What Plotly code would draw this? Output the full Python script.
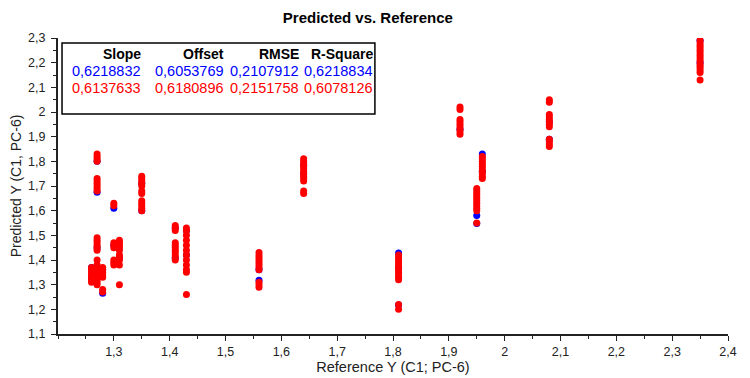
import plotly.graph_objects as go

# Reference (x) and predicted (y) values, validation series (red)
red_x = ([1.26] * 7 +
         [1.27] * 24 +
         [1.28] * 7 +
         [1.30] * 8 +
         [1.31] * 10 +
         [1.35] * 12 +
         [1.41] * 11 +
         [1.43] * 12 +
         [1.56] * 11 +
         [1.64] * 12 +
         [1.81] * 13 +
         [1.92] * 9 +
         [1.95] * 11 +
         [1.96] * 10 +
         [2.08] * 12 +
         [2.35] * 15)
red_y = ([1.31, 1.32, 1.33, 1.34, 1.35, 1.36, 1.37] +
         [1.80, 1.81, 1.82, 1.83, 1.68, 1.69, 1.70, 1.71, 1.72, 1.73,
          1.44, 1.45, 1.46, 1.47, 1.48, 1.49, 1.30, 1.31, 1.32, 1.33,
          1.34, 1.36, 1.38, 1.40] +
         [1.33, 1.34, 1.35, 1.36, 1.37, 1.28, 1.27] +
         [1.62, 1.63, 1.45, 1.46, 1.47, 1.38, 1.39, 1.40] +
         [1.44, 1.45, 1.46, 1.47, 1.48, 1.38, 1.40, 1.41, 1.42, 1.30] +
         [1.67, 1.68, 1.70, 1.71, 1.72, 1.73, 1.74, 1.60, 1.61, 1.62, 1.63, 1.64] +
         [1.52, 1.53, 1.54, 1.40, 1.41, 1.42, 1.43, 1.44, 1.45, 1.46, 1.47] +
         [1.53, 1.52, 1.50, 1.48, 1.46, 1.44, 1.42, 1.40, 1.38, 1.36, 1.35, 1.26] +
         [1.36, 1.37, 1.38, 1.39, 1.40, 1.41, 1.42, 1.43, 1.29, 1.30, 1.31] +
         [1.72, 1.73, 1.74, 1.75, 1.76, 1.77, 1.78, 1.79, 1.80, 1.81, 1.67, 1.68] +
         [1.32, 1.33, 1.34, 1.35, 1.36, 1.37, 1.38, 1.39, 1.40, 1.41, 1.42, 1.20, 1.22] +
         [2.01, 2.02, 1.91, 1.92, 1.93, 1.94, 1.95, 1.96, 1.97] +
         [1.60, 1.61, 1.62, 1.63, 1.64, 1.65, 1.66, 1.67, 1.68, 1.69, 1.55] +
         [1.73, 1.74, 1.75, 1.76, 1.77, 1.78, 1.79, 1.80, 1.81, 1.82] +
         [2.04, 2.05, 1.94, 1.95, 1.96, 1.97, 1.98, 1.99, 1.86, 1.87, 1.88, 1.89] +
         [2.16, 2.17, 2.18, 2.19, 2.20, 2.21, 2.22, 2.23, 2.24, 2.25, 2.26,
          2.27, 2.28, 2.29, 2.13])

# Calibration series (blue), mostly hidden below the red points
blue_x = [1.26, 1.26, 1.27, 1.27, 1.27, 1.27, 1.28, 1.28, 1.30, 1.30, 1.31,
          1.35, 1.35, 1.41, 1.41, 1.43, 1.43, 1.56, 1.56, 1.64, 1.64,
          1.81, 1.81, 1.81, 1.92, 1.95, 1.95, 1.96, 1.96, 2.08, 2.08, 2.35, 2.35]
blue_y = [1.37, 1.33, 1.675, 1.80, 1.45, 1.34, 1.265, 1.36, 1.61, 1.46, 1.41,
          1.60, 1.71, 1.408, 1.53, 1.52, 1.42, 1.36, 1.318, 1.785, 1.75,
          1.428, 1.37, 1.218, 1.93, 1.548, 1.58, 1.83, 1.76, 1.89, 1.96, 2.29, 2.20]

x_ticks = [1.3, 1.4, 1.5, 1.6, 1.7, 1.8, 1.9, 2.0, 2.1, 2.2, 2.3, 2.4]
x_labels = ["1,3", "1,4", "1,5", "1,6", "1,7", "1,8", "1,9", "2", "2,1", "2,2", "2,3", "2,4"]
y_ticks = [1.1, 1.2, 1.3, 1.4, 1.5, 1.6, 1.7, 1.8, 1.9, 2.0, 2.1, 2.2, 2.3]
y_labels = ["1,1", "1,2", "1,3", "1,4", "1,5", "1,6", "1,7", "1,8", "1,9", "2", "2,1", "2,2", "2,3"]

stat_headers = ["Slope", "Offset", "RMSE", "R-Square"]
stats_blue = ["0,6218832", "0,6053769", "0,2107912", "0,6218834"]
stats_red = ["0,6137633", "0,6180896", "0,2151758", "0,6078126"]

FONT = "Liberation Sans Narrow, Arial Narrow, Liberation Sans, Arial, sans-serif"
FONT_W = "Liberation Sans, Arial, sans-serif"

fig = go.Figure()
fig.add_trace(go.Scatter(x=blue_x, y=blue_y, mode="markers",
                         marker=dict(color="#0000ff", size=7, line=dict(width=0)),
                         showlegend=False, hoverinfo="x+y"))
fig.add_trace(go.Scatter(x=red_x, y=red_y, mode="markers",
                         marker=dict(color="#ff0000", size=7, line=dict(width=0)),
                         showlegend=False, hoverinfo="x+y"))

# Statistics box
fig.add_shape(type="rect", xref="paper", yref="paper",
              x0=0.006, x1=0.473, y0=0.743, y1=0.983,
              line=dict(color="black", width=1.5), fillcolor="white", layer="below")

col_x = [0.127, 0.251, 0.363, 0.473]
for i in range(4):
    fig.add_annotation(xref="paper", yref="paper", x=col_x[i], y=0.947,
                       text="<b>" + stat_headers[i] + "</b>", showarrow=False,
                       xanchor="right", yanchor="middle",
                       font=dict(family=FONT_W, size=14, color="black"))
    fig.add_annotation(xref="paper", yref="paper", x=col_x[i], y=0.889,
                       text=stats_blue[i], showarrow=False,
                       xanchor="right", yanchor="middle",
                       font=dict(family=FONT_W, size=14.5, color="#0000ff"))
    fig.add_annotation(xref="paper", yref="paper", x=col_x[i], y=0.831,
                       text=stats_red[i], showarrow=False,
                       xanchor="right", yanchor="middle",
                       font=dict(family=FONT_W, size=14.5, color="#ff0000"))

# The page body has an 8px margin, so the figure is sized 742x370 to fit the window
fig.update_layout(
    width=742, height=370,
    margin=dict(l=50, r=22, t=30, b=44),
    paper_bgcolor="white", plot_bgcolor="white",
    title=dict(text="<b>Predicted vs. Reference</b>", x=0.485, xref="container",
               y=0.973, yref="container", xanchor="center", yanchor="middle",
               automargin=False,
               font=dict(family=FONT, size=15, color="black")),
    font=dict(family=FONT, size=12, color="#222"),
    xaxis=dict(range=[1.2, 2.4], tickvals=x_ticks, ticktext=x_labels,
               automargin=False,
               showline=True, linecolor="#222", linewidth=2, showgrid=False,
               zeroline=False, ticks="outside", ticklen=5, tickcolor="#222",
               minor=dict(ticks="outside", ticklen=3, dtick=0.05, tick0=1.2,
                          tickcolor="#222", showgrid=False),
               title=dict(text="Reference Y (C1; PC-6)", standoff=4,
                          font=dict(family=FONT, size=14.5)),
               tickfont=dict(family=FONT, size=12.5)),
    yaxis=dict(range=[1.1, 2.3], tickvals=y_ticks, ticktext=y_labels,
               automargin=False,
               showline=True, linecolor="#222", linewidth=2, showgrid=False,
               zeroline=False, ticks="outside", ticklen=5, tickcolor="#222",
               ticklabelstandoff=3,
               minor=dict(ticks="outside", ticklen=3, dtick=0.05, tick0=1.1,
                          tickcolor="#222", showgrid=False),
               title=dict(text="Predicted Y (C1, PC-6)", standoff=4,
                          font=dict(family=FONT, size=14)),
               tickfont=dict(family=FONT, size=12.5)),
)

fig.write_html("out.html")
